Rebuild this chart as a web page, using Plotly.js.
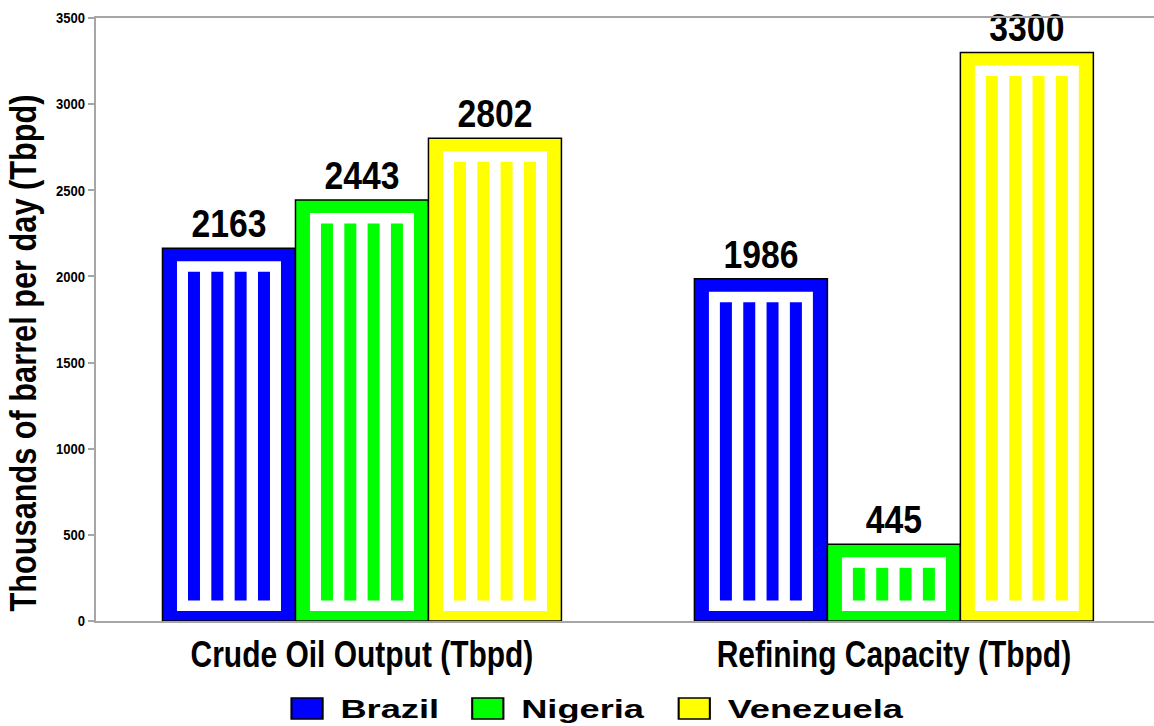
<!DOCTYPE html>
<html>
<head>
<meta charset="utf-8">
<script src="https://cdn.plot.ly/plotly-3.0.1.min.js"></script>
<style>
  html, body { margin: 0; padding: 0; background: #ffffff; }
  #chart { width: 1154px; height: 726px; }
</style>
</head>
<body>
<div id="chart"></div>
<script>
// ---- data ----
const categories = ["Crude Oil Output (Tbpd)", "Refining Capacity (Tbpd)"];
const countries = ["Brazil", "Nigeria", "Venezuela"];
const brazil = [2163, 1986];
const nigeria = [2443, 445];
const venezuela = [2802, 3300];
const yTitle = "Thousands of barrel per day (Tbpd)";
const yTicks = [0, 500, 1000, 1500, 2000, 2500, 3000, 3500];

// ---- style ----
const seriesValues = [brazil, nigeria, venezuela];
const colors = ["#0000ff", "#00ff00", "#ffff00"];
const sans = "'Liberation Sans', Arial, sans-serif";
const W = 1154, H = 726;
const M = {l: 96, r: 0, t: 18, b: 105};
const plotH = H - M.t - M.b;
const yMax = 3500;
const uPerPx = yMax / plotH;
const BAR_W = 0.25;
const xPos = categories.map((c, i) => i);

const traces = [];
seriesValues.forEach((vals, s) => {
  const off = -0.375 + s * BAR_W;
  traces.push({
    type: "bar", name: countries[s], x: xPos, y: vals,
    offset: off, width: BAR_W,
    marker: {color: colors[s], line: {color: "#000000", width: 1.5}},
    text: vals.map(v => String(v)), textposition: "outside",
    textfont: {family: sans, size: 39, color: "#000000", weight: "bold"},
    cliponaxis: false, hoverinfo: "skip"
  });
});
// inner white frames and stripes (decoration derived from the same values)
const topIn = 13 * uPerPx, botIn = 10 * uPerPx, stripeIn = 10.5 * uPerPx;
const frameW = 104 / 532;
const stripeW = 12 / 532;
const stripeCenters = [-35, -11.65, 11.65, 35].map(p => p / 532);
seriesValues.forEach((vals, s) => {
  const center = -0.375 + s * BAR_W + BAR_W / 2;
  traces.push({
    type: "bar", x: xPos, y: vals.map(v => v - topIn - botIn), base: botIn,
    offset: center - frameW / 2, width: frameW,
    marker: {color: "#ffffff", line: {width: 0}},
    showlegend: false, hoverinfo: "skip"
  });
  stripeCenters.forEach(sc => {
    traces.push({
      type: "bar", x: xPos, y: vals.map(v => v - topIn - botIn - 2 * stripeIn), base: botIn + stripeIn,
      offset: center + sc - stripeW / 2, width: stripeW,
      marker: {color: colors[s], line: {width: 0}},
      showlegend: false, hoverinfo: "skip"
    });
  });
});

const gray = "#a6a6a6";
const layout = {
  width: W, height: H,
  margin: M,
  paper_bgcolor: "#ffffff", plot_bgcolor: "#ffffff",
  barmode: "overlay",
  showlegend: true,
  legend: {
    orientation: "h", x: 0.5, xanchor: "center", xref: "container",
    y: 0, yanchor: "bottom", yref: "container",
    bgcolor: "rgba(0,0,0,0)",
    font: {family: sans, size: 25, color: "#000000", weight: "bold"},
    traceorder: "normal"
  },
  xaxis: {
    range: [-0.5, 1.489], tickvals: xPos, ticktext: categories,
    showline: true, linecolor: gray, linewidth: 2, mirror: true,
    ticks: "", showgrid: false, zeroline: false, fixedrange: true,
    tickfont: {family: sans, size: 37, color: "#000000", weight: "bold"}
  },
  yaxis: {
    range: [0, yMax], tickvals: yTicks,
    showline: true, linecolor: gray, linewidth: 2,
    ticks: "outside", ticklen: 6, tickwidth: 2, tickcolor: gray,
    showgrid: false, zeroline: false, fixedrange: true,
    tickfont: {family: sans, size: 15, color: "#000000", weight: "bold"},
    title: {text: yTitle, font: {family: sans, size: 37, color: "#000000", weight: "bold"}, standoff: 14}
  }
};

// horizontal squeeze/stretch of a text element about an anchor
function squeeze(el, s, anchor) {
  const bb = el.getBBox();
  const cx = anchor === "end" ? bb.x + bb.width : anchor === "start" ? bb.x : bb.x + bb.width / 2;
  const prev = el.getAttribute("transform") || "";
  el.setAttribute("transform", prev + " translate(" + cx + ",0) scale(" + s + ",1) translate(" + (-cx) + ",0)");
}
function parseTranslate(el) {
  const m = /translate\(\s*([-\d.e]+)[\s,]+([-\d.e]+)\s*\)/.exec(el.getAttribute("transform") || "");
  return m ? [parseFloat(m[1]), parseFloat(m[2])] : [0, 0];
}

Plotly.newPlot("chart", traces, layout, {displayModeBar: false, staticPlot: true}).then(gd => {
  gd.querySelectorAll(".bartext").forEach(t => squeeze(t, 0.865, "middle"));
  gd.querySelectorAll(".xtick text").forEach(t => squeeze(t, 0.81, "middle"));
  gd.querySelectorAll(".ytick text").forEach(t => squeeze(t, 0.87, "end"));

  // y title: narrow and place like the reference
  const yt = gd.querySelector(".ytitle");
  if (yt) {
    squeeze(yt, 0.83, "middle");
    const g = gd.querySelector(".g-ytitle");
    const r = yt.getBoundingClientRect();
    const cx = (r.left + r.right) / 2, cy = (r.top + r.bottom) / 2;
    g.setAttribute("transform", "translate(" + (30 - cx) + "," + (353 - cy) + ")");
  }

  // legend: large key boxes, wide text, spacing as in the reference
  const sb = gd.querySelector(".legend .scrollbox");
  if (sb) sb.removeAttribute("clip-path");
  const legClip = gd.querySelector(".legend");
  if (legClip) legClip.removeAttribute("clip-path");
  const SX = 1.45, gapSw = 49, gapNext = 33, centerX = 598, centerY = 708.5;
  const info = Array.from(gd.querySelectorAll(".legend .traces")).map(it => {
    const p = it.querySelector(".legendpoints path");
    p.setAttribute("transform", "scale(2.6,1.75)");
    p.style.strokeWidth = "0.8px";
    p.style.stroke = "#000000";
    const t = it.querySelector("text.legendtext");
    return {it, p, t, w: t.getBBox().width * SX};
  });
  const total = info.reduce((a, d) => a + gapSw + d.w + gapNext, 0) - gapNext;
  let X = centerX - total / 2;
  info.forEach(d => {
    const r = d.p.getBoundingClientRect();
    const [tx, ty] = parseTranslate(d.it);
    d.it.setAttribute("transform", "translate(" + (tx + X - r.left) + "," + (ty + centerY - (r.top + r.bottom) / 2) + ")");
    const pr = d.p.getBoundingClientRect();
    const ictm = d.it.getScreenCTM();
    const localLeft = pr.left - ictm.e;
    d.t.setAttribute("x", 0);
    d.t.setAttribute("transform", "translate(" + (localLeft + gapSw) + ",0) scale(" + SX + ",1)");
    X += gapSw + d.w + gapNext;
  });
});
</script>
</body>
</html>
